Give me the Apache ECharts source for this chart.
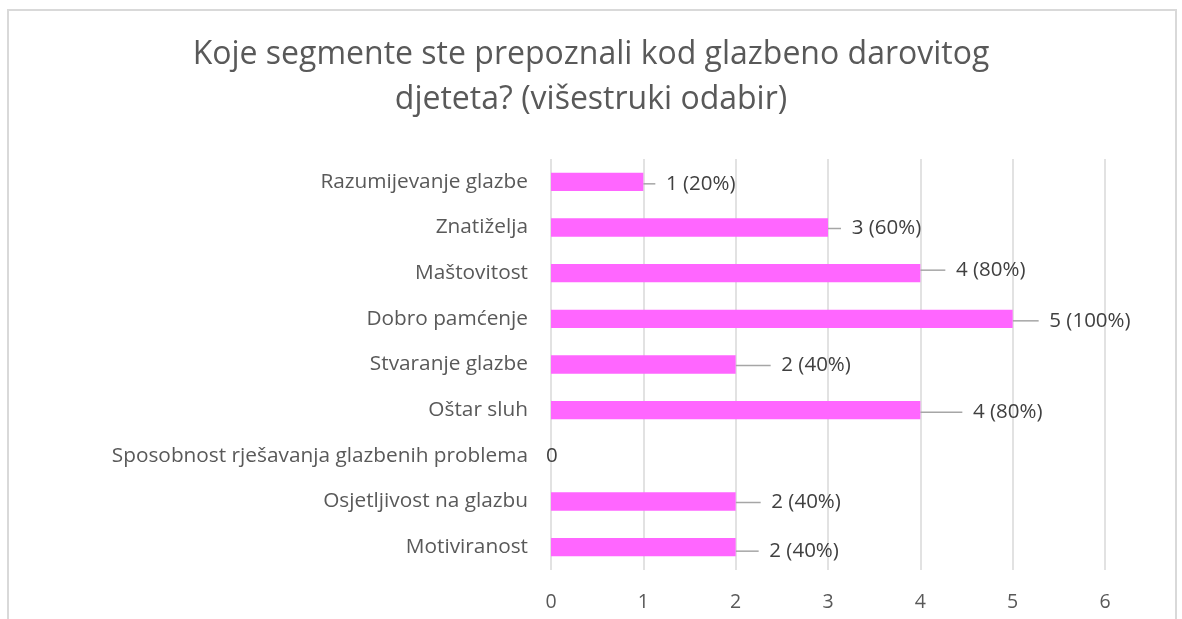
<!DOCTYPE html>
<html><head><meta charset="utf-8">
<script src="https://cdn.jsdelivr.net/npm/echarts@6/dist/echarts.min.js"></script>
<style>html,body{margin:0;padding:0;background:#fff}#c{width:1182px;height:619px}</style>
</head><body><div id="c"></div>
<script>
const titleText = 'Koje segmente ste prepoznali kod glazbeno darovitog\ndjeteta? (višestruki odabir)';
const categories = ['Razumijevanje glazbe','Znatiželja','Maštovitost','Dobro pamćenje','Stvaranje glazbe','Oštar sluh','Sposobnost rješavanja glazbenih problema','Osjetljivost na glazbu','Motiviranost'];
const values = [1,3,4,5,2,4,0,2,2];
const percents = ['20%','60%','80%','100%','40%','80%','','40%','40%'];
const xTicks = [0,1,2,3,4,5,6];
// label displacement (leader lines)
const labelDx = [7,8,20,21,30,37,-10,20,18];
const labelDy = [2,1,-3,2,1,2,0,1,4];

const chart = echarts.init(document.getElementById('c'), null, {renderer:'canvas'});
const font = '"Open Sans", sans-serif';
chart.setOption({
  animation:false,
  title:{text:titleText,left:'center',top:27,textStyle:{fontFamily:font,fontSize:32,fontWeight:'normal',color:'#595959',lineHeight:45}},
  graphic:[{type:'rect',shape:{x:8,y:10,width:1168,height:640},style:{fill:'none',stroke:'#d9d9d9',lineWidth:2},silent:true}],
  grid:{left:551,right:77,top:159,bottom:49,containLabel:false},
  xAxis:{type:'value',min:0,max:6,interval:1,
    axisLine:{show:false},axisTick:{show:false},
    splitLine:{lineStyle:{color:'#d9d9d9',width:1.5}},
    axisLabel:{margin:22,fontFamily:font,fontSize:19.5,color:'#595959',formatter:v=>xTicks.includes(v)?String(v):''}},
  yAxis:{type:'category',inverse:true,data:categories,
    axisLine:{show:false},axisTick:{show:false},splitLine:{show:false},
    axisLabel:{margin:23,fontFamily:font,fontSize:20.8,color:'#595959'}},
  series:[{type:'bar',barCategoryGap:'60%',
    data:values.map((v,i)=>({value:v,
      labelLine:{show:v!==0}})),
    itemStyle:{color:'#ff66ff'},
    label:{show:true,position:'right',distance:5,fontFamily:font,fontSize:20.5,color:'#404040',
      formatter:p=>percents[p.dataIndex]?`  ${p.value} (${percents[p.dataIndex]})`:String(p.value)},
    labelLine:{show:true,lineStyle:{color:'#a6a6a6',width:1.5}},
    labelLayout:p=>({dx:labelDx[p.dataIndex],dy:labelDy[p.dataIndex]})
  }]
});
</script></body></html>
